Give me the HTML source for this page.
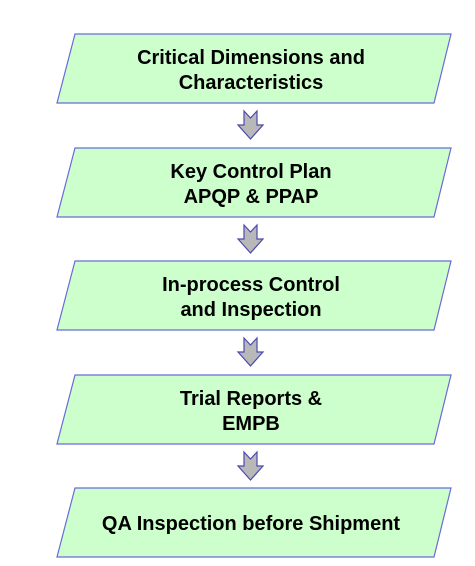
<!DOCTYPE html>
<html><head><style>
html,body{margin:0;padding:0;background:#fff;}
svg{display:block}
text{font-family:"Liberation Sans",Arial,sans-serif;font-weight:bold;font-size:20px;fill:#000}
</style></head><body>
<svg width="475" height="566" viewBox="0 0 475 566" xmlns="http://www.w3.org/2000/svg">
<defs>
<g id="box"><polygon points="75,0 451,0 434,69 57,69" fill="#ccffcc" stroke="#6a6ad8" stroke-width="1.2"/></g>
<g id="arr"><polygon points="244,0 250.5,7 257,0 257,14 263,14 250.5,28 238,14 244,14" fill="#b8b8b8" stroke="#4a4ab0" stroke-width="1.2"/></g>
</defs>
<use href="#box" y="34"/>
<use href="#box" y="148"/>
<use href="#box" y="261"/>
<use href="#box" y="375"/>
<use href="#box" y="488"/>
<use href="#arr" y="111"/>
<use href="#arr" y="225"/>
<use href="#arr" y="338"/>
<use href="#arr" y="452"/>
<g text-anchor="middle">
<text x="251" y="64">Critical Dimensions and</text>
<text x="251" y="89">Characteristics</text>
<text x="251" y="178">Key Control Plan</text>
<text x="251" y="203">APQP &amp; PPAP</text>
<text x="251" y="291">In-process Control</text>
<text x="251" y="316">and Inspection</text>
<text x="251" y="405">Trial Reports &amp;</text>
<text x="251" y="430">EMPB</text>
<text x="251" y="530">QA Inspection before Shipment</text>
</g>
</svg>
</body></html>
